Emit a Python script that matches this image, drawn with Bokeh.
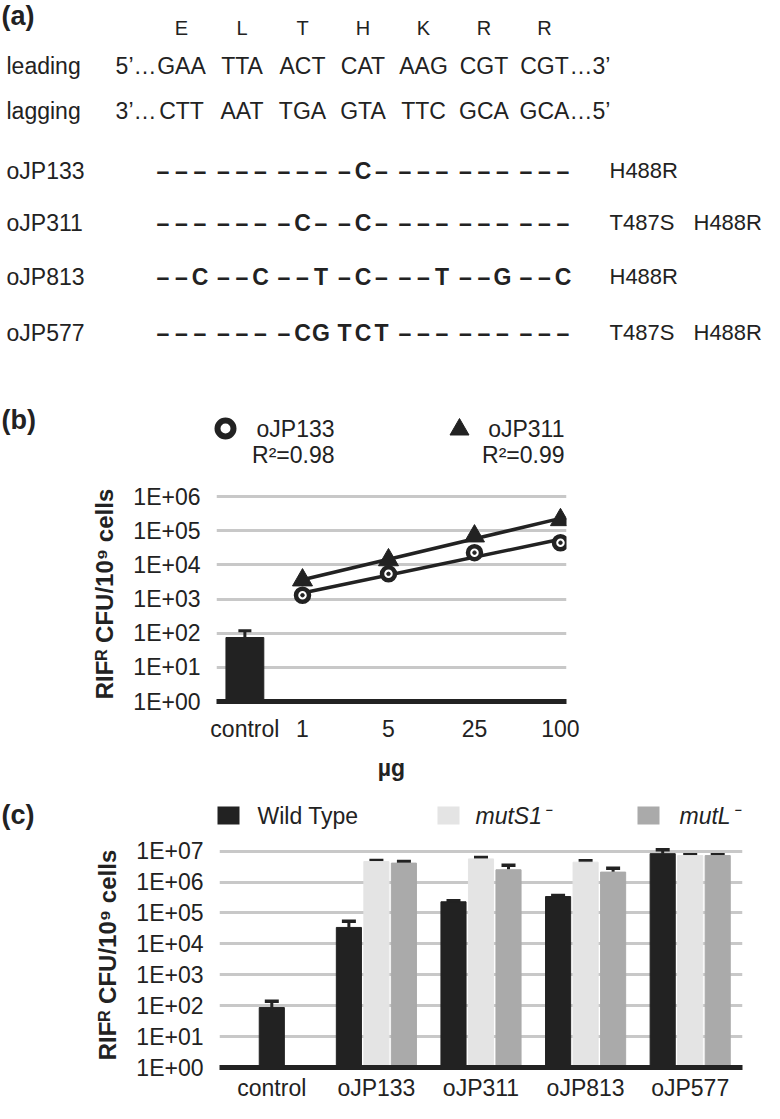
import numpy as np
from bokeh.plotting import figure
from bokeh.layouts import column
from bokeh.models import Range1d, FixedTicker, ColumnDataSource, Whisker, TeeHead
from bokeh.core.properties import value
from bokeh.embed import file_html
from bokeh.resources import INLINE

# ---------------- data ----------------
amino_acids = ["E", "L", "T", "H", "K", "R", "R"]
leading_codons = ["GAA", "TTA", "ACT", "CAT", "AAG", "CGT", "CGT"]
lagging_codons = ["CTT", "AAT", "TGA", "GTA", "TTC", "GCA", "GCA"]
oligo_names = ["oJP133", "oJP311", "oJP813", "oJP577"]
oligo_codons = [
    ["---", "---", "---", "-C-", "---", "---", "---"],
    ["---", "---", "-C-", "-C-", "---", "---", "---"],
    ["--C", "--C", "--T", "-C-", "--T", "--G", "--C"],
    ["---", "---", "-CG", "TCT", "---", "---", "---"],
]
oligo_mutations = [["H488R"], ["T487S", "H488R"], ["H488R"], ["T487S", "H488R"]]

dose_labels = ["control", "1", "5", "25", "100"]
control_b = 75.0
control_b_err = 43.0
ojp133_b = [1.3e3, 5.5e3, 2.3e4, 4.5e4]
ojp311_b = [3.6e3, 1.4e4, 7.0e4, 2.1e5]
series_b = ["oJP133", "oJP311"]
r2_b = ["0.98", "0.99"]

categories_c = ["control", "oJP133", "oJP311", "oJP813", "oJP577"]
strains_c = ["Wild Type", "mutS1\u207b", "mutL\u207b"]
wt_c = [87, 3.4e4, 2.3e5, 3.4e5, 8.3e6]
wt_c_err = [53, 2.0e4, 2.0e4, 3.0e4, 2.7e6]
muts1_c = [None, 4.6e6, 5.6e6, 4.4e6, 7.2e6]
muts1_c_err = [None, 4.0e5, 6.0e5, 5.0e5, 4.0e5]
mutl_c = [None, 4.1e6, 2.5e6, 2.1e6, 7.2e6]
mutl_c_err = [None, 5.0e5, 1.0e6, 7.0e5, 4.0e5]

y_ticks_b = ["1E+00", "1E+01", "1E+02", "1E+03", "1E+04", "1E+05", "1E+06"]
y_ticks_c = ["1E+00", "1E+01", "1E+02", "1E+03", "1E+04", "1E+05", "1E+06", "1E+07"]
y_title = "RIF\u1d3f CFU/10\u2079 cells"
x_title_b = "\u00b5g"

# ---------------- style ----------------
FONT = "Liberation Sans"
INK = "#222222"
WT_COL = "#222222"
S1_COL = "#e4e4e4"
L_COL = "#aaaaaa"
GRID = "#c8c8c8"
W = 764


def canvas(h):
    f = figure(width=W, height=h, x_range=Range1d(0, W), y_range=Range1d(h, 0),
               x_axis_type=None, y_axis_type=None, output_backend="svg",
               toolbar_location=None, min_border=0, frame_align=False)
    f.outline_line_color = None
    return f


def txt(f, xs, ys, texts, size, align="left", style="normal"):
    f.text(x=xs, y=ys, text=texts, text_font=value(FONT), text_font_size=size,
           text_align=align, text_baseline="middle", text_font_style=style,
           text_color=INK)


# ---------------- panel (a) ----------------
pa = canvas(388)
CX0, CDX, CHDX = 181, 60.5, 18.5
cx = [CX0 + i * CDX for i in range(len(amino_acids))]
txt(pa, [1], [15], ["(a)"], "27px", style="bold")
txt(pa, cx, [27] * len(cx), amino_acids, "20px", align="center")

row_leading, row_lagging = 65, 110
txt(pa, [6, 6], [row_leading, row_lagging], ["leading", "lagging"], "23px")
txt(pa, cx, [row_leading] * len(cx), leading_codons, "23px", align="center")
txt(pa, cx, [row_lagging] * len(cx), lagging_codons, "23px", align="center")
txt(pa, [cx[0] - 25] * 2, [row_leading, row_lagging], ["5\u2019\u2026", "3\u2019\u2026"], "23px", align="right")
txt(pa, [cx[-1] + 25] * 2, [row_leading, row_lagging], ["\u20263\u2019", "\u20265\u2019"], "23px")

row_y = [170, 222, 276, 332]
for name, codons, muts, y in zip(oligo_names, oligo_codons, oligo_mutations, row_y):
    txt(pa, [6], [y], [name], "23px")
    xs, chars = [], []
    for i, cod in enumerate(codons):
        for k, ch in enumerate(cod):
            xs.append(cx[i] + (k - 1) * CHDX)
            chars.append("\u2013" if ch == "-" else ch)
    txt(pa, xs, [y] * len(xs), chars, "23px", align="center", style="bold")
    mx = [609, 693][:len(muts)]
    txt(pa, mx, [y] * len(mx), muts, "22px")

# ---------------- panel (b) legend ----------------
pbl = canvas(88)
txt(pbl, [1], [31], ["(b)"], "27px", style="bold")
pbl.scatter([225], [40], marker="circle", size=16, fill_color="white",
            line_color=INK, line_width=6)
pbl.scatter([459], [41], marker="triangle", size=19, color=INK)
txt(pbl, [334, 564], [40, 40], series_b, "23px", align="right")
txt(pbl, [334, 564], [66, 66], ["R\u00b2=" + r for r in r2_b], "23px", align="right")

# ---------------- panel (b) chart ----------------
CONTROL_X = 0.33
pb = figure(width=W, height=310, x_range=Range1d(0, 4.07), y_range=Range1d(1, 10 ** 6.3),
            y_axis_type="log", output_backend="svg", toolbar_location=None, frame_align=False,
            min_border_left=216, min_border_right=198, min_border_top=10, min_border_bottom=85)
pb.outline_line_color = None
ticks_b = [10 ** i for i in range(len(y_ticks_b))]
pb.yaxis.ticker = FixedTicker(ticks=ticks_b, minor_ticks=[])
pb.ygrid.ticker = FixedTicker(ticks=ticks_b, minor_ticks=[])
pb.yaxis.major_label_overrides = {t: l for t, l in zip(ticks_b, y_ticks_b)}
xt_b = [CONTROL_X] + list(range(1, len(dose_labels)))
pb.xaxis.ticker = FixedTicker(ticks=xt_b, minor_ticks=[])
pb.xaxis.major_label_overrides = {t: l for t, l in zip(xt_b, dose_labels)}
pb.xaxis.axis_label = x_title_b
pb.yaxis.axis_label = y_title
pb.xgrid.grid_line_color = None
pb.ygrid.grid_line_color = GRID
pb.ygrid.grid_line_width = 3

pb.vbar(x=[CONTROL_X], top=[control_b], bottom=1, width=0.44, color=WT_COL)
src_eb = ColumnDataSource(dict(x=[CONTROL_X], lo=[control_b], hi=[control_b + control_b_err]))
pb.add_layout(Whisker(source=src_eb, base="x", lower="lo", upper="hi", line_color=INK,
                      line_width=3, lower_head=None,
                      upper_head=TeeHead(size=13, line_width=3, line_color=INK)))

idx = np.arange(1, len(dose_labels))
for vals in (ojp133_b, ojp311_b):
    k, b0 = np.polyfit(idx, np.log10(vals), 1)
    xs = [idx[0], idx[-1]]
    pb.line(xs, [10 ** (b0 + k * x) for x in xs], line_width=3.5, color=INK)
pb.scatter(idx, ojp311_b, marker="triangle", size=20, color=INK)
pb.scatter(idx, ojp133_b, marker="circle", size=13, fill_color="white", line_color=INK, line_width=4.5)
pb.scatter(idx, ojp133_b, marker="circle", size=3.5, color=INK)

# ---------------- panel (c) legend ----------------
pcl = canvas(46)
txt(pcl, [1], [28], ["(c)"], "27px", style="bold")
pcl.rect(x=[228, 448, 648], y=[29, 29, 29], width=22, height=18,
         fill_color=[WT_COL, S1_COL, L_COL], line_color=None)
txt(pcl, [257], [29], strains_c[:1], "23px")
txt(pcl, [475, 679], [29, 29], strains_c[1:], "23px", style="italic")

# ---------------- panel (c) chart ----------------
pc = figure(width=W, height=271, x_range=Range1d(0, len(categories_c)),
            y_range=Range1d(1, 10 ** 7.28), y_axis_type="log", output_backend="svg",
            toolbar_location=None, frame_align=False, min_border_left=219, min_border_right=22,
            min_border_top=10, min_border_bottom=33)
pc.outline_line_color = None
ticks_c = [10 ** i for i in range(len(y_ticks_c))]
pc.yaxis.ticker = FixedTicker(ticks=ticks_c, minor_ticks=[])
pc.ygrid.ticker = FixedTicker(ticks=ticks_c, minor_ticks=[])
pc.yaxis.major_label_overrides = {t: l for t, l in zip(ticks_c, y_ticks_c)}
centers = [i + 0.5 for i in range(len(categories_c))]
pc.xaxis.ticker = FixedTicker(ticks=centers, minor_ticks=[])
pc.xaxis.major_label_overrides = {t: l for t, l in zip(centers, categories_c)}
pc.yaxis.axis_label = y_title
pc.xgrid.grid_line_color = None
pc.ygrid.grid_line_color = GRID
pc.ygrid.grid_line_width = 3

DODGE, BW = 0.263, 0.24
series_c = [
    (wt_c, wt_c_err, WT_COL, -DODGE),
    (muts1_c, muts1_c_err, S1_COL, 0.0),
    (mutl_c, mutl_c_err, L_COL, DODGE),
]
for vals, errs, col, off in series_c:
    xs, tops, his = [], [], []
    for i, (v, e) in enumerate(zip(vals, errs)):
        if v is None:
            continue
        alone = muts1_c[i] is None and mutl_c[i] is None
        xs.append(centers[i] + (0 if alone else off))
        tops.append(v)
        his.append(v + e)
    pc.vbar(x=xs, top=tops, bottom=1, width=BW, color=col)
    s = ColumnDataSource(dict(x=xs, lo=tops, hi=his))
    pc.add_layout(Whisker(source=s, base="x", lower="lo", upper="hi", line_color=INK,
                          line_width=3, lower_head=None,
                          upper_head=TeeHead(size=14, line_width=3.5, line_color=INK)))

# ---------------- shared axis styling ----------------
for p, std in ((pb, 14), (pc, 7)):
    for a in (p.xaxis[0], p.yaxis[0]):
        a.major_tick_line_color = None
        a.minor_tick_line_color = None
        a.major_tick_out = 0
        a.major_tick_in = 0
        a.minor_tick_out = 0
        a.minor_tick_in = 0
        a.major_label_text_font = FONT
        a.major_label_text_font_size = "23px"
        a.major_label_text_color = INK
        a.axis_label_text_font = FONT
        a.axis_label_text_font_style = "bold"
        a.axis_label_text_color = INK
    ax = p.xaxis[0]
    ax.axis_line_width = 5
    ax.axis_line_color = INK
    ax.major_label_standoff = std
    ax.axis_label_text_font_size = "23px"
    ax.axis_label_standoff = 10
    ay = p.yaxis[0]
    ay.axis_line_color = None
    ay.major_label_standoff = 16
    ay.axis_label_text_font_size = "24px"
    ay.axis_label_standoff = 12

layout = column(pa, pbl, pb, pcl, pc)
open("out.html", "w").write(file_html(layout, INLINE))
